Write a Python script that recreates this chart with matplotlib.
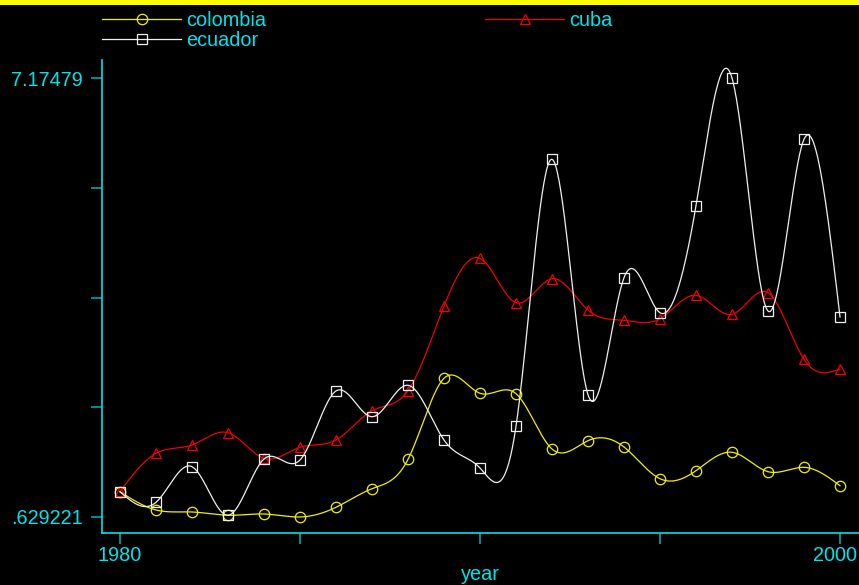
import numpy as np
import matplotlib
matplotlib.use("Agg")
import matplotlib.pyplot as plt
import matplotlib.transforms as mtransforms
from matplotlib.patches import Rectangle

years = list(range(1980, 2001))
colombia = [1.006, 0.734, 0.704, 0.655, 0.674, 0.629221, 0.774, 1.051, 1.489, 2.697,
            2.474, 2.468, 1.643, 1.767, 1.673, 1.200, 1.320, 1.594, 1.305, 1.370, 1.096]
cuba = [1.010, 1.579, 1.703, 1.886, 1.504, 1.668, 1.777, 2.214, 2.512, 3.775,
        4.486, 3.824, 4.182, 3.715, 3.562, 3.586, 3.935, 3.651, 3.973, 2.980, 2.836]
ecuador = [1.006, 0.848, 1.379, 0.655, 1.494, 1.479, 2.508, 2.125, 2.593, 1.777,
           1.360, 1.981, 5.962, 2.453, 4.197, 3.675, 5.271, 7.17479, 3.700, 6.261, 3.611]
ymin_label, ymax_label = 0.629221, 7.17479
ytick_labels = [".629221", "", "", "", "7.17479"]
xtick_vals = [1980, 1985, 1990, 1995, 2000]
xtick_labels = ["1980", "", "", "", "2000"]


def natural_spline(x, y, n=40):
    x = np.asarray(x, float)
    y = np.asarray(y, float)
    m = len(x)
    h = np.diff(x)
    A = np.zeros((m, m))
    b = np.zeros(m)
    A[0, 0] = A[-1, -1] = 1
    for i in range(1, m - 1):
        A[i, i - 1] = h[i - 1]
        A[i, i] = 2 * (h[i - 1] + h[i])
        A[i, i + 1] = h[i]
        b[i] = 3 * ((y[i + 1] - y[i]) / h[i] - (y[i] - y[i - 1]) / h[i - 1])
    c = np.linalg.solve(A, b)
    xs, ys = [], []
    for i in range(m - 1):
        t = np.linspace(0, h[i], n, endpoint=False)
        bb = (y[i + 1] - y[i]) / h[i] - h[i] * (2 * c[i] + c[i + 1]) / 3
        d = (c[i + 1] - c[i]) / (3 * h[i])
        xs.append(x[i] + t)
        ys.append(y[i] + bb * t + c[i] * t ** 2 + d * t ** 3)
    xs.append([x[-1]])
    ys.append([y[-1]])
    return np.concatenate(xs), np.concatenate(ys)


CYAN = "#00E3EA"
TICKC = "#00A6AA"
plt.rcParams["font.family"] = ["Liberation Sans", "DejaVu Sans"]

fig = plt.figure(figsize=(8.59, 5.85), dpi=100, facecolor="black")
W, H = 859, 585
ax = fig.add_axes([102 / W, 1 - 533 / H, (W - 102) / W, (533 - 60) / H])
ax.set_facecolor("black")

series = [("colombia", colombia, "#F0F000", "o"),
          ("cuba", cuba, "#F00000", "^"),
          ("ecuador", ecuador, "#F0F0F0", "s")]
handles = {}
for z, (name, vals, col, mk) in enumerate(series):
    sx, sy = natural_spline(years, vals)
    ax.plot(sx, sy, color=col, lw=0.9, zorder=2 + z)
    ax.plot(years, vals, linestyle="none", marker=mk, markersize=7.5,
            markerfacecolor="none", markeredgecolor=col, markeredgewidth=0.9,
            zorder=2 + z)
    handles[name] = plt.Line2D([], [], color=col, lw=0.9, marker=mk, markersize=7.5,
                               markerfacecolor="none", markeredgecolor=col,
                               markeredgewidth=0.9)

step = (ymax_label - ymin_label) / 4
ppy = (517 - 78) / (ymax_label - ymin_label)
ax.set_ylim(ymin_label - 16 / ppy, ymax_label + 18 / ppy)
ax.set_xlim(1980 - 18 / 36, 2000 + 19 / 36)
ax.set_yticks([ymin_label + k * step for k in range(5)])
ax.set_yticklabels(ytick_labels)
ax.set_xticks(xtick_vals)
ax.set_xticklabels(xtick_labels)

for s in ["top", "right"]:
    ax.spines[s].set_visible(False)
for s in ["left", "bottom"]:
    ax.spines[s].set_color(CYAN)
    ax.spines[s].set_linewidth(1.2)
ax.tick_params(colors=TICKC, length=8, width=1.2, labelcolor=CYAN, labelsize=14.3)
ax.tick_params(axis="x", pad=1.5)
ax.tick_params(axis="y", pad=5.5)
ax.set_xlabel("year", color=CYAN, fontsize=14.3, labelpad=-0.5)

# shift last x tick label left so it fits inside the figure
lbl = ax.get_xticklabels()[-1]
lbl.set_transform(lbl.get_transform() +
                  mtransforms.ScaledTranslation(-5 / 100, 0, fig.dpi_scale_trans))

leg = fig.legend([handles["colombia"], handles["ecuador"], handles["cuba"]],
                 ["colombia", "ecuador", "cuba"], ncol=2, frameon=False,
                 loc="upper left", bbox_to_anchor=(88 / W, 1 + 3 / H),
                 fontsize=14.3, labelcolor=CYAN, handlelength=4.0, handletextpad=0.25,
                 columnspacing=11.0, labelspacing=0.05, borderpad=0.2)

fig.patches.append(Rectangle((0, 1 - 5 / H), 1, 5 / H, transform=fig.transFigure,
                             facecolor="#FFFF00", edgecolor="none", zorder=10))

fig.savefig("out.png", dpi=100, facecolor="black")
